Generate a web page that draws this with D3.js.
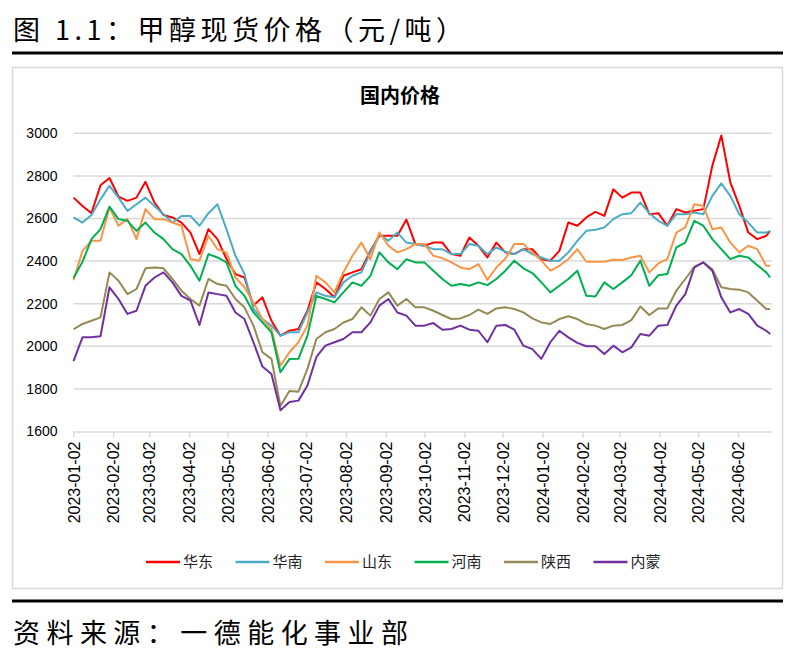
<!DOCTYPE html>
<html>
<head>
<meta charset="utf-8">
<script src="https://cdn.jsdelivr.net/npm/d3@7/dist/d3.min.js"></script>
<style>
body { margin: 0; background: #fff; }
svg text { font-family: "Liberation Sans", Arial, sans-serif; }
.cjk { font-family: "Noto Sans CJK SC", sans-serif; }
</style>
</head>
<body>
<svg id="chart" width="805" height="661"></svg>
<script>
// weekly samples from 2023-01-02, last one 2024-06-27
var startDate = "2023-01-02"
var weekCount = 78
var lastDate = "2024-06-27"

var seriesNames = ["华东", "华南", "山东", "河南", "陕西", "内蒙"]
var seriesColors = ["#FF0000", "#4BACC6", "#F79646", "#00B050", "#948A54", "#7030A0"]

var huadong = [2698, 2659, 2625, 2756, 2790, 2703, 2683, 2698, 2772, 2675, 2616, 2605, 2581, 2534, 2433, 2550, 2503, 2410, 2339, 2323,
    2191, 2230, 2120, 2050, 2073, 2081, 2167, 2300, 2269, 2230, 2331, 2347, 2362, 2448, 2519, 2519, 2519, 2595,
    2480, 2472, 2487, 2487, 2433, 2425, 2511, 2472, 2417, 2487, 2441, 2433, 2456, 2456, 2409, 2402, 2448, 2581, 2566, 2605,
    2631, 2612, 2737, 2698, 2722, 2722, 2620, 2625, 2566, 2644, 2628, 2636, 2644, 2847, 2990, 2770, 2659, 2534, 2503, 2519, 2542]
var huanan = [2605, 2581, 2616, 2690, 2753, 2698, 2636, 2667, 2698, 2659, 2620, 2581, 2612, 2612, 2566, 2625, 2667, 2550, 2425, 2340,
    2175, 2128, 2097, 2050, 2066, 2066, 2159, 2253, 2237, 2230, 2300, 2331, 2347, 2441, 2527, 2495, 2534, 2487,
    2480, 2472, 2456, 2456, 2433, 2433, 2480, 2472, 2433, 2464, 2444, 2433, 2456, 2433, 2417, 2402, 2402, 2441, 2495, 2542,
    2547, 2558, 2597, 2620, 2625, 2675, 2625, 2589, 2566, 2620, 2620, 2628, 2620, 2706, 2765, 2706, 2620, 2581, 2534, 2534, 2542]
var shandong = [2310, 2448, 2495, 2495, 2652, 2566, 2597, 2503, 2644, 2597, 2597, 2581, 2566, 2410, 2402, 2519, 2456, 2440, 2323, 2277,
    2206, 2128, 2081, 1909, 1972, 2019, 2097, 2331, 2300, 2253, 2347, 2425, 2487, 2409, 2534, 2472, 2441, 2456,
    2480, 2480, 2425, 2414, 2394, 2370, 2362, 2386, 2312, 2370, 2412, 2480, 2480, 2441, 2402, 2355, 2378, 2409, 2456, 2397,
    2397, 2397, 2406, 2405, 2417, 2425, 2347, 2389, 2409, 2534, 2558, 2667, 2659, 2550, 2558, 2487, 2441, 2472, 2456, 2378, 2378]
var henan = [2320, 2397, 2503, 2550, 2656, 2597, 2589, 2542, 2581, 2534, 2503, 2456, 2433, 2378, 2308, 2433, 2417, 2394, 2284, 2237,
    2159, 2112, 2066, 1878, 1940, 1941, 2050, 2237, 2222, 2206, 2253, 2300, 2284, 2331, 2441, 2394, 2362, 2409,
    2394, 2394, 2355, 2316, 2284, 2292, 2284, 2300, 2287, 2316, 2355, 2402, 2366, 2344, 2300, 2253, 2284, 2316, 2355, 2237,
    2234, 2300, 2269, 2300, 2334, 2402, 2284, 2334, 2339, 2464, 2487, 2589, 2566, 2503, 2456, 2409, 2425, 2417, 2381, 2347, 2323]
var shaanxi = [2080, 2105, 2120, 2136, 2347, 2308, 2245, 2269, 2366, 2370, 2366, 2316, 2261, 2222, 2191, 2316, 2292, 2284, 2222, 2183,
    2097, 1972, 1941, 1720, 1790, 1787, 1894, 2034, 2066, 2081, 2112, 2128, 2183, 2144, 2222, 2253, 2191, 2222,
    2183, 2183, 2167, 2147, 2128, 2131, 2147, 2172, 2152, 2178, 2183, 2175, 2159, 2131, 2112, 2105, 2128, 2141, 2128, 2105,
    2097, 2081, 2097, 2100, 2123, 2187, 2147, 2178, 2178, 2261, 2316, 2373, 2394, 2362, 2277, 2269, 2266, 2253, 2214, 2175, 2175]
var neimeng = [1930, 2042, 2042, 2047, 2277, 2222, 2152, 2167, 2284, 2323, 2347, 2300, 2237, 2214, 2100, 2253, 2245, 2237, 2159, 2128,
    2019, 1905, 1870, 1700, 1738, 1745, 1816, 1950, 2003, 2019, 2034, 2066, 2066, 2112, 2191, 2222, 2159, 2144,
    2097, 2097, 2109, 2078, 2081, 2097, 2078, 2073, 2019, 2097, 2100, 2078, 2003, 1987, 1941, 2019, 2073, 2042, 2016, 2000,
    2000, 1964, 2003, 1972, 1995, 2058, 2050, 2097, 2100, 2191, 2245, 2370, 2394, 2355, 2230, 2159, 2175, 2152, 2097, 2073, 2058]

var yTicks = [1600, 1800, 2000, 2200, 2400, 2600, 2800, 3000]
var xTickLabels = ["2023-01-02", "2023-02-02", "2023-03-02", "2023-04-02", "2023-05-02", "2023-06-02",
    "2023-07-02", "2023-08-02", "2023-09-02", "2023-10-02", "2023-11-02", "2023-12-02",
    "2024-01-02", "2024-02-02", "2024-03-02", "2024-04-02", "2024-05-02", "2024-06-02"]

var parse = d3.utcParse("%Y-%m-%d")
var dates = d3.range(weekCount).map(i => d3.utcDay.offset(parse(startDate), 7 * i))
dates.push(parse(lastDate))

var allSeries = [huadong, huanan, shandong, henan, shaanxi, neimeng].map((vals, k) => ({
    name: seriesNames[k],
    color: seriesColors[k],
    values: vals.map((v, i) => ({ date: dates[i], value: v }))
}))

function drawChart() {
    var svg = d3.select("#chart")

    // header + footer
    svg.append("text").attr("class", "cjk")
        .attr("x", 13).attr("y", 40)
        .attr("font-size", 27).attr("fill", "#000")
        .attr("textLength", 450).attr("lengthAdjust", "spacing")
        .text("图 1.1：甲醇现货价格（元/吨）")
    svg.append("line").attr("x1", 12).attr("x2", 783).attr("y1", 53).attr("y2", 53)
        .attr("stroke", "#000").attr("stroke-width", 3)
    svg.append("line").attr("x1", 12).attr("x2", 783).attr("y1", 601).attr("y2", 601)
        .attr("stroke", "#000").attr("stroke-width", 3)
    svg.append("text").attr("class", "cjk")
        .attr("x", 13).attr("y", 643)
        .attr("font-size", 27).attr("fill", "#000")
        .attr("textLength", 395).attr("lengthAdjust", "spacing")
        .text("资料来源：一德能化事业部")

    // chart frame
    svg.append("rect").attr("x", 12.5).attr("y", 67.5).attr("width", 770).attr("height", 521)
        .attr("fill", "none").attr("stroke", "#d9d9d9").attr("stroke-width", 1.5)

    svg.append("text").attr("class", "cjk")
        .attr("x", 400).attr("y", 103).attr("text-anchor", "middle")
        .attr("font-size", 20).attr("font-weight", "bold").attr("fill", "#000")
        .text("国内价格")

    var x = d3.scaleUtc()
        .domain([parse("2023-01-02"), parse("2024-06-30")])
        .range([73.5, 774])
    var y = d3.scaleLinear()
        .domain([1600, 3000])
        .range([431.5, 133.3])

    // gridlines
    svg.append("g").selectAll("line")
        .data(yTicks.slice(1))
        .enter().append("line")
        .attr("x1", 73.5).attr("x2", 772)
        .attr("y1", d => y(d)).attr("y2", d => y(d))
        .attr("stroke", "#d9d9d9").attr("stroke-width", 1.5)

    var yAxis = svg.append("g")
        .attr("transform", "translate(" + 73.5 + ",0)")
        .call(d3.axisLeft(y).tickValues(yTicks).tickSize(0).tickPadding(16).tickFormat(d3.format("d")))
    yAxis.select(".domain").remove()
    yAxis.selectAll("text").attr("font-size", 14).attr("fill", "#000")
        .style("font-family", "Liberation Sans, Arial, sans-serif")

    var xAxis = svg.append("g")
        .attr("transform", "translate(0," + y(1600) + ")")
        .call(d3.axisBottom(x).tickValues(xTickLabels.map(parse)).tickSize(6)
            .tickFormat(d3.utcFormat("%Y-%m-%d")))
    xAxis.select(".domain").attr("stroke", "#d9d9d9").attr("stroke-width", 1.5)
        .attr("d", "M73.5,0.5H772")
    xAxis.selectAll(".tick line").attr("stroke", "#d9d9d9").attr("stroke-width", 1.5)
    xAxis.selectAll("text")
        .attr("transform", "rotate(-90)")
        .attr("x", -10).attr("y", 0).attr("dy", "0.35em")
        .style("text-anchor", "end")
        .attr("font-size", 16).attr("fill", "#000")
        .style("font-family", "Liberation Sans, Arial, sans-serif")

    var line = d3.line()
        .x(d => x(d.date))
        .y(d => y(d.value))

    svg.append("g").selectAll("path")
        .data(allSeries)
        .enter().append("path")
        .attr("d", d => line(d.values))
        .attr("fill", "none")
        .attr("stroke", d => d.color)
        .attr("stroke-width", 2)
        .attr("stroke-linejoin", "round")

    // legend
    var legend = svg.append("g").selectAll("g")
        .data(allSeries)
        .enter().append("g")
        .attr("transform", (d, i) => "translate(" + (146 + 89.5 * i) + ",562)")
    legend.append("line")
        .attr("x1", 0).attr("x2", 34)
        .attr("stroke", d => d.color).attr("stroke-width", 2.5)
    legend.append("text").attr("class", "cjk")
        .attr("x", 37).attr("dy", "0.35em")
        .attr("font-size", 15).attr("fill", "#222")
        .text(d => d.name)
}

drawChart()
</script>
</body>
</html>
